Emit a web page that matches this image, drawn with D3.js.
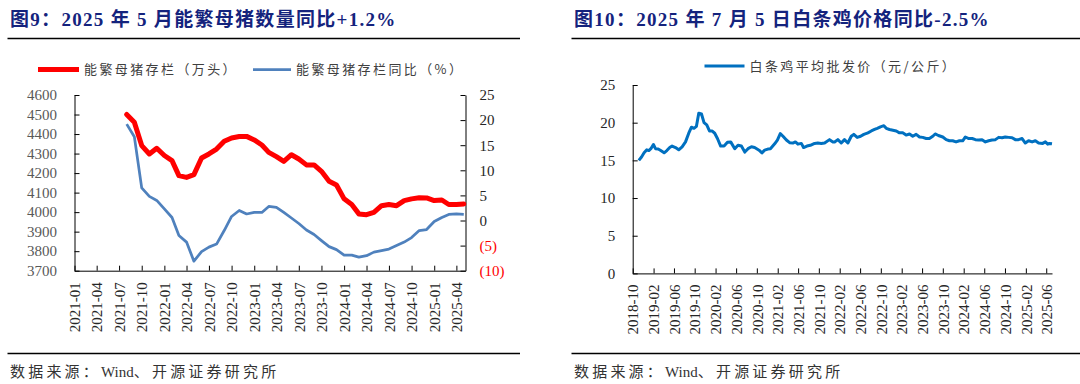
<!DOCTYPE html>
<html>
<head>
<meta charset="utf-8">
<script src="https://cdn.jsdelivr.net/npm/d3@7"></script>
<style>
  body { margin: 0; background: #fff; }
  svg { display: block; }
</style>
</head>
<body>
<svg id="chart" width="1080" height="384"></svg>
<script>
// ---- data: fig 9, sow inventory (monthly) ----
const pigMonths = ['2021-08','2021-09','2021-10','2021-11','2021-12',
  '2022-01','2022-02','2022-03','2022-04','2022-05','2022-06','2022-07','2022-08','2022-09','2022-10','2022-11','2022-12',
  '2023-01','2023-02','2023-03','2023-04','2023-05','2023-06','2023-07','2023-08','2023-09','2023-10','2023-11','2023-12',
  '2024-01','2024-02','2024-03','2024-04','2024-05','2024-06','2024-07','2024-08','2024-09','2024-10','2024-11','2024-12',
  '2025-01','2025-02','2025-03','2025-04','2025-05'];
const sowStock = [4500, 4460, 4341, 4298, 4327,
  4290, 4264, 4187, 4178, 4192, 4277, 4298, 4323, 4363, 4380, 4387, 4388,
  4370, 4344, 4306, 4284, 4260, 4294, 4272, 4242, 4242, 4209, 4158, 4139,
  4068, 4039, 3991, 3987, 3999, 4033, 4039, 4033, 4059, 4068, 4074, 4073,
  4059, 4062, 4039, 4039, 4042];
const sowYoY = [19.2, 16.7, 6.5, 4.8, 4.0,
  2.3, 0.6, -3.0, -4.3, -8.1, -6.2, -5.3, -4.7, -2.0, 0.8, 2.0, 1.3,
  1.6, 1.6, 2.8, 2.6, 1.6, 0.5, -0.6, -1.9, -2.8, -4.0, -5.2, -5.8,
  -6.9, -6.9, -7.3, -7.0, -6.3, -6.0, -5.7, -5.0, -4.3, -3.4, -2.0, -1.8,
  -0.2, 0.6, 1.2, 1.3, 1.2];
const pigTicks = ['2021-01','2021-04','2021-07','2021-10','2022-01','2022-04','2022-07','2022-10',
  '2023-01','2023-04','2023-07','2023-10','2024-01','2024-04','2024-07','2024-10','2025-01','2025-04'];
const stockTicks = [3700, 3800, 3900, 4000, 4100, 4200, 4300, 4400, 4500, 4600];
const yoyTicks = [-10, -5, 0, 5, 10, 15, 20, 25];

// ---- data: fig 10, white-strip chicken wholesale price ----
const chickenDates = ['2018-11-06','2018-11-22','2018-12-07','2018-12-23','2019-01-04','2019-01-16','2019-01-31',
  '2019-02-12','2019-02-28','2019-03-15','2019-04-04','2019-04-20','2019-05-07','2019-05-21','2019-06-10','2019-06-29',
  '2019-07-19','2019-08-08','2019-08-27','2019-09-12','2019-09-27','2019-10-11','2019-10-25','2019-11-10','2019-11-25',
  '2019-12-11','2019-12-27','2020-01-11','2020-01-27','2020-02-12','2020-03-02','2020-03-22','2020-04-11','2020-04-30',
  '2020-05-24','2020-06-12','2020-07-02','2020-07-22','2020-08-10','2020-08-30','2020-09-18','2020-10-14','2020-10-31',
  '2020-11-16','2020-12-05','2020-12-20','2021-01-14','2021-01-30','2021-02-16','2021-03-04','2021-03-24','2021-04-12',
  '2021-05-01','2021-05-16','2021-05-31','2021-06-20','2021-07-03','2021-07-23','2021-08-12','2021-09-06','2021-09-25',
  '2021-10-15','2021-11-04','2021-12-03','2021-12-23','2022-01-02','2022-01-21','2022-02-10','2022-03-01','2022-03-21',
  '2022-04-10','2022-04-25','2022-05-15','2022-06-04','2022-06-23','2022-07-17','2022-08-06','2022-08-25','2022-09-10',
  '2022-09-29','2022-10-19','2022-11-02','2022-11-21','2022-12-11','2022-12-31','2023-01-19','2023-02-07','2023-02-27',
  '2023-03-19','2023-04-07','2023-04-27','2023-05-17','2023-06-05','2023-06-25','2023-07-14','2023-08-03','2023-08-17',
  '2023-09-05','2023-10-01','2023-10-21','2023-11-09','2023-11-28','2023-12-18','2024-01-07','2024-01-26','2024-02-11',
  '2024-03-02','2024-03-22','2024-04-10','2024-04-29','2024-05-19','2024-06-08','2024-06-27','2024-07-17','2024-08-06',
  '2024-08-25','2024-09-14','2024-10-03','2024-10-23','2024-11-12','2024-12-01','2024-12-20','2025-01-10','2025-01-29',
  '2025-02-17','2025-03-10','2025-03-29','2025-04-17','2025-05-11','2025-05-27','2025-06-10','2025-06-20','2025-07-05'];
const chickenPrice = [15.0, 15.45, 16.0, 16.4, 16.3, 16.55, 17.1,
  16.55, 16.5, 16.3, 16.0, 16.3, 16.7, 16.9, 16.7, 16.4,
  16.8, 17.45, 18.6, 19.4, 19.25, 19.5, 21.25, 21.15, 20.0,
  19.7, 18.9, 18.9, 18.6, 17.9, 16.9, 16.9, 17.4, 17.45,
  16.55, 17.0, 16.9, 16.1, 16.55, 16.8, 16.7, 16.35, 16.0,
  16.35, 16.5, 16.55, 17.2, 17.7, 18.55, 18.2, 17.7, 17.35,
  17.3, 17.45, 17.15, 17.25, 16.7, 16.9, 17.0, 17.25, 17.3,
  17.25, 17.3, 17.75, 17.45, 17.45, 17.75, 17.3, 17.75, 17.3,
  18.2, 18.45, 18.05, 18.2, 18.45, 18.65, 18.9, 19.1, 19.25,
  19.45, 19.6, 19.25, 19.1, 19.0, 18.9, 18.65, 18.65, 18.35,
  18.5, 18.2, 18.45, 18.1, 18.05, 17.9, 17.9, 18.2, 18.5,
  18.3, 18.1, 17.75, 17.6, 17.6, 17.45, 17.6, 17.6, 18.1,
  17.9, 17.9, 17.75, 17.7, 17.75, 17.45, 17.6, 17.7, 17.75,
  18.05, 18.0, 18.1, 18.05, 18.0, 17.75, 17.75, 17.9, 17.3,
  17.6, 17.45, 17.6, 17.3, 17.25, 17.45, 17.15, 17.25, 17.2];
const chickenTicks = ['2018-10','2019-02','2019-06','2019-10','2020-02','2020-06','2020-10','2021-02','2021-06',
  '2021-10','2022-02','2022-06','2022-10','2023-02','2023-06','2023-10','2024-02','2024-06','2024-10','2025-02','2025-06'];
const priceTicks = [0, 5, 10, 15, 20, 25];

// ---- common styles ----
const svg = d3.select('#chart');
const serif = '"Liberation Serif", "Times New Roman", serif';
const mixed = '"Liberation Serif", "Noto Sans CJK SC", serif'; // serif digits, CJK falls back
const cjk = '"Noto Sans CJK SC", "Noto Sans", sans-serif';
const parseMonth = d3.timeParse('%Y-%m');
const parseDay = d3.timeParse('%Y-%m-%d');
const fmtMonth = d3.timeFormat('%Y-%m');

svg.append('rect').attr('width', 1080).attr('height', 384).attr('fill', '#fff');

// title, rules and source line for each panel
function frame(x0, x1, textX, title) {
  svg.append('text')
    .attr('x', textX).attr('y', 26)
    .attr('font-family', mixed).attr('font-weight', 'bold').attr('font-size', 19)
    .attr('letter-spacing', 1.3)
    .attr('fill', '#14237d')
    .text(title);
  svg.append('line')
    .attr('x1', x0).attr('x2', x1).attr('y1', 38.5).attr('y2', 38.5)
    .attr('stroke', '#000').attr('stroke-width', 1.5);
  svg.append('line')
    .attr('x1', x0).attr('x2', x1).attr('y1', 353.5).attr('y2', 353.5)
    .attr('stroke', '#000').attr('stroke-width', 1.5);
  // source line: wide spacing on the CJK parts only
  const src = svg.append('text')
    .attr('x', textX).attr('y', 377)
    .attr('font-family', mixed).attr('font-size', 15)
    .attr('fill', '#333');
  src.append('tspan').attr('letter-spacing', 3.2).text('数据来源：');
  src.append('tspan').attr('letter-spacing', 0).text('Wind');
  src.append('tspan').attr('letter-spacing', 3.2).text('、开源证券研究所');
}

// rotated date labels under an x axis
function rotateLabels(g, gap) {
  g.selectAll('.tick text')
    .attr('transform', 'rotate(-90)')
    .attr('x', -gap).attr('y', 0).attr('dy', '0.35em')
    .attr('text-anchor', 'end');
}

function styleAxis(g, color) {
  g.attr('font-family', serif).attr('font-size', 15);
  g.select('.domain').attr('stroke', '#000');
  g.selectAll('.tick line').attr('stroke', '#000');
  g.selectAll('.tick text').attr('fill', color);
}

function legendItem(x, y, len, color, width, label) {
  svg.append('line')
    .attr('x1', x).attr('x2', x + len).attr('y1', y).attr('y2', y)
    .attr('stroke', color).attr('stroke-width', width);
  svg.append('text')
    .attr('x', x + len + 5).attr('y', y + 4.5)
    .attr('font-family', cjk).attr('font-size', 13).attr('letter-spacing', 2.4)
    .attr('fill', '#404040')
    .text(label);
}

// ================= Fig 9 =================
frame(7.5, 520, 10, '图9：2025 年 5 月能繁母猪数量同比+1.2%');

const pig = { left: 74.5, right: 465.5, top: 95, bottom: 270.7 };

const xPig = d3.scaleTime()
  .domain([parseMonth('2021-01'), parseDay('2025-05-08')])
  .range([pig.left, pig.right]);
const yStock = d3.scaleLinear().domain([3700, 4600]).range([pig.bottom, pig.top]);
const yYoY = d3.scaleLinear().domain([-10, 25]).range([pig.bottom, pig.top]);

// x axis, ticks pointing up into the plot
svg.append('g')
  .attr('transform', `translate(0,${pig.bottom})`)
  .call(d3.axisBottom(xPig).tickValues(pigTicks.map(parseMonth)).tickFormat(fmtMonth)
    .tickSizeInner(-5).tickSizeOuter(0))
  .call(g => styleAxis(g, '#262626'))
  .call(g => rotateLabels(g, 11.5));

// left axis: inventory
svg.append('g')
  .attr('transform', `translate(${pig.left},0)`)
  .call(d3.axisLeft(yStock).tickValues(stockTicks).tickFormat(d3.format('d'))
    .tickSizeInner(-5).tickSizeOuter(0).tickPadding(17.5))
  .call(g => styleAxis(g, '#595959'));

// right axis: yoy, negatives in brackets and red
svg.append('g')
  .attr('transform', `translate(${pig.right},0)`)
  .call(d3.axisRight(yYoY).tickValues(yoyTicks).tickSizeInner(-5).tickSizeOuter(0).tickPadding(14)
    .tickFormat(d => d < 0 ? `(${-d})` : d))
  .call(g => styleAxis(g, '#262626'))
  .call(g => g.selectAll('.tick text').filter(d => d < 0).attr('fill', '#ff0000'));

const pigRows = pigMonths.map((m, i) => ({ date: parseMonth(m), stock: sowStock[i], yoy: sowYoY[i] }));

svg.append('path')
  .datum(pigRows)
  .attr('fill', 'none')
  .attr('stroke', '#4f81bd')
  .attr('stroke-width', 2.75)
  .attr('stroke-linejoin', 'round')
  .attr('d', d3.line().x(d => xPig(d.date)).y(d => yYoY(d.yoy)));

svg.append('path')
  .datum(pigRows)
  .attr('fill', 'none')
  .attr('stroke', '#ff0000')
  .attr('stroke-width', 5)
  .attr('stroke-linejoin', 'round')
  .attr('stroke-linecap', 'round')
  .attr('d', d3.line().x(d => xPig(d.date)).y(d => yStock(d.stock)));

legendItem(38, 69.5, 41, '#ff0000', 5, '能繁母猪存栏（万头）');
legendItem(253, 69.5, 38, '#4f81bd', 2.75, '能繁母猪存栏同比（%）');

// ================= Fig 10 =================
frame(571.5, 1080, 574, '图10：2025 年 7 月 5 日白条鸡价格同比-2.5%');

const chk = { left: 632.7, right: 1052, top: 85, bottom: 273.4 };

const xChk = d3.scaleTime()
  .domain([parseMonth('2018-10'), parseDay('2025-07-05')])
  .range([chk.left, chk.right]);
const yChk = d3.scaleLinear().domain([0, 25]).range([chk.bottom, chk.top]);

svg.append('g')
  .attr('transform', `translate(0,${chk.bottom})`)
  .call(d3.axisBottom(xChk).tickValues(chickenTicks.map(parseMonth)).tickFormat(fmtMonth)
    .tickSizeInner(-5).tickSizeOuter(0))
  .call(g => styleAxis(g, '#262626'))
  .call(g => rotateLabels(g, 11));

svg.append('g')
  .attr('transform', `translate(${chk.left},0)`)
  .call(d3.axisLeft(yChk).tickValues(priceTicks).tickSizeInner(-5).tickSizeOuter(0).tickPadding(17.5))
  .call(g => styleAxis(g, '#262626'));

const chickenRows = chickenDates.map((d, i) => ({ date: parseDay(d), price: chickenPrice[i] }));

svg.append('path')
  .datum(chickenRows)
  .attr('fill', 'none')
  .attr('stroke', '#0070c0')
  .attr('stroke-width', 3)
  .attr('stroke-linejoin', 'round')
  .attr('d', d3.line().x(d => xChk(d.date)).y(d => yChk(d.price)));

legendItem(704.5, 66, 40, '#0070c0', 3, '白条鸡平均批发价（元/公斤）');
</script>
</body>
</html>
